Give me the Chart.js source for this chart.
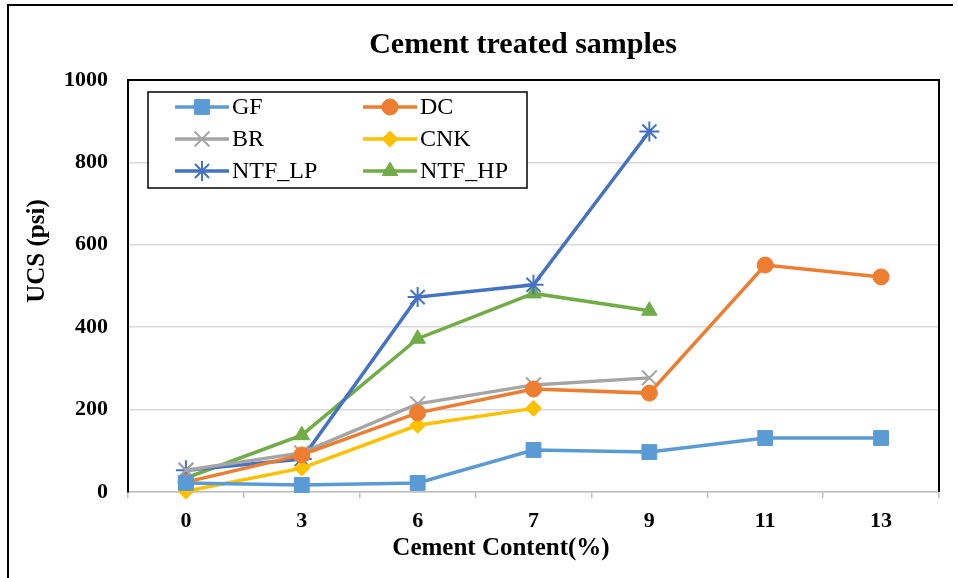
<!DOCTYPE html>
<html>
<head>
<meta charset="utf-8">
<script src="https://cdn.jsdelivr.net/npm/chart.js@4"></script>
<style>
html,body{margin:0;padding:0;background:#fff;}
#wrap{position:relative;width:958px;height:578px;}
</style>
</head>
<body>
<div id="wrap"><canvas id="c" width="958" height="578"></canvas></div>
<script>
const categories = ['0','3','6','7','9','11','13'];
const GF     = [22, 17, 22, 102, 97, 131, 131];
const DC     = [24, 90, 192, 250, 240, 551, 522];
const BR     = [53, 95, 214, 260, 277, null, null];
const CNK    = [2, 58, 162, 203, null, null, null];
const NTF_LP = [53, 80, 473, 503, 875, null, null];
const NTF_HP = [34, 138, 372, 482, 440, null, null];
const yTicks = [0, 200, 400, 600, 800, 1000];

const chartTitle = 'Cement treated samples';
const xTitle = 'Cement Content(%)';
const yTitle = 'UCS (psi)';

const SERIF = '"Liberation Serif","Times New Roman",serif';

function ds(label, data, color, style, radius) {
  return {
    label, data,
    borderColor: color, backgroundColor: color,
    borderWidth: 3.5,
    pointStyle: style, pointRadius: radius, pointHoverRadius: radius,
    pointBorderWidth: style === 'crossRot' || style === 'star' ? 2 : 1,
    pointBorderColor: color, pointBackgroundColor: color,
    tension: 0, spanGaps: false, clip: false
  };
}

const datasets = [
  ds('GF', GF, '#5B9BD5', 'rect', 10.5),
  ds('DC', DC, '#ED7D31', 'circle', 8),
  ds('BR', BR, '#A5A5A5', 'crossRot', 10.5),
  ds('CNK', CNK, '#FFC000', 'rectRot', 8),
  ds('NTF_LP', NTF_LP, '#4472C4', 'star', 10),
  ds('NTF_HP', NTF_HP, '#70AD47', 'triangle', 9)
];

const decor = {
  id: 'decor',
  afterDraw(chart) {
    const ctx = chart.ctx;
    const a = chart.chartArea;
    ctx.save();
    ctx.strokeStyle = '#000';
    ctx.lineWidth = 2;
    ctx.beginPath();
    ctx.moveTo(8, 578); ctx.lineTo(8, 5); ctx.lineTo(953, 5);
    ctx.stroke();
    ctx.beginPath();
    ctx.moveTo(a.left, a.top); ctx.lineTo(a.right, a.top); ctx.lineTo(a.right, a.bottom);
    ctx.stroke();
    ctx.fillStyle = '#000';
    ctx.textAlign = 'center';
    ctx.textBaseline = 'middle';
    ctx.font = 'bold 30px ' + SERIF;
    ctx.fillText(chartTitle, 523, 45);
    ctx.font = 'bold 25px ' + SERIF;
    ctx.fillText(xTitle, 501, 549);
    ctx.save();
    ctx.translate(38, 251);
    ctx.rotate(-Math.PI / 2);
    ctx.fillText(yTitle, 0, 0);
    ctx.restore();
    const lx = 148, ly = 92, lw = 379, lh = 96;
    ctx.fillStyle = '#fff';
    ctx.fillRect(lx, ly, lw, lh);
    ctx.strokeStyle = '#000';
    ctx.lineWidth = 1.5;
    ctx.strokeRect(lx, ly, lw, lh);
    const cols = [175, 363];
    const rows = [107, 139, 171];
    ctx.font = '24px ' + SERIF;
    ctx.textAlign = 'left';
    chart.data.datasets.forEach((d, i) => {
      const x = cols[i % 2], y = rows[Math.floor(i / 2)];
      ctx.strokeStyle = d.borderColor;
      ctx.lineWidth = 3.5;
      ctx.beginPath(); ctx.moveTo(x, y); ctx.lineTo(x + 54, y); ctx.stroke();
      ctx.fillStyle = d.backgroundColor;
      ctx.lineWidth = d.pointBorderWidth;
      Chart.helpers.drawPoint(ctx, {pointStyle: d.pointStyle, radius: d.pointRadius, borderWidth: d.pointBorderWidth, rotation: 0}, x + 27, y);
      ctx.fillStyle = '#000';
      ctx.fillText(d.label, x + 57, y + 1);
    });
    ctx.restore();
  }
};

new Chart(document.getElementById('c'), {
  type: 'line',
  data: { labels: categories, datasets },
  options: {
    responsive: false,
    animation: false,
    events: [],
    layout: { padding: { top: 80, right: 19, left: 0, bottom: 0 } },
    plugins: { legend: { display: false }, title: { display: false }, tooltip: { enabled: false } },
    scales: {
      x: {
        type: 'category',
        offset: true,
        grid: { display: true, drawOnChartArea: false, drawTicks: true, tickLength: 6, offset: true, color: '#BFBFBF', lineWidth: 1.5 },
        border: { display: true, color: '#BFBFBF', width: 1.5 },
        ticks: { color: '#000', font: { family: SERIF, size: 22, weight: 'bold' }, padding: 10, maxRotation: 0 },
        afterFit(s) { s.height = 86; }
      },
      y: {
        min: 0, max: 1000,
        afterBuildTicks(s) { s.ticks = yTicks.map(v => ({ value: v })); },
        grid: { color: '#D9D9D9', lineWidth: 1.5, drawTicks: false },
        border: { display: true, color: '#000', width: 2 },
        ticks: { color: '#000', font: { family: SERIF, size: 22, weight: 'bold' }, padding: 20, callback: v => String(v) },
        afterFit(s) { s.width = 128; }
      }
    }
  },
  plugins: [decor]
});
</script>
</body>
</html>
